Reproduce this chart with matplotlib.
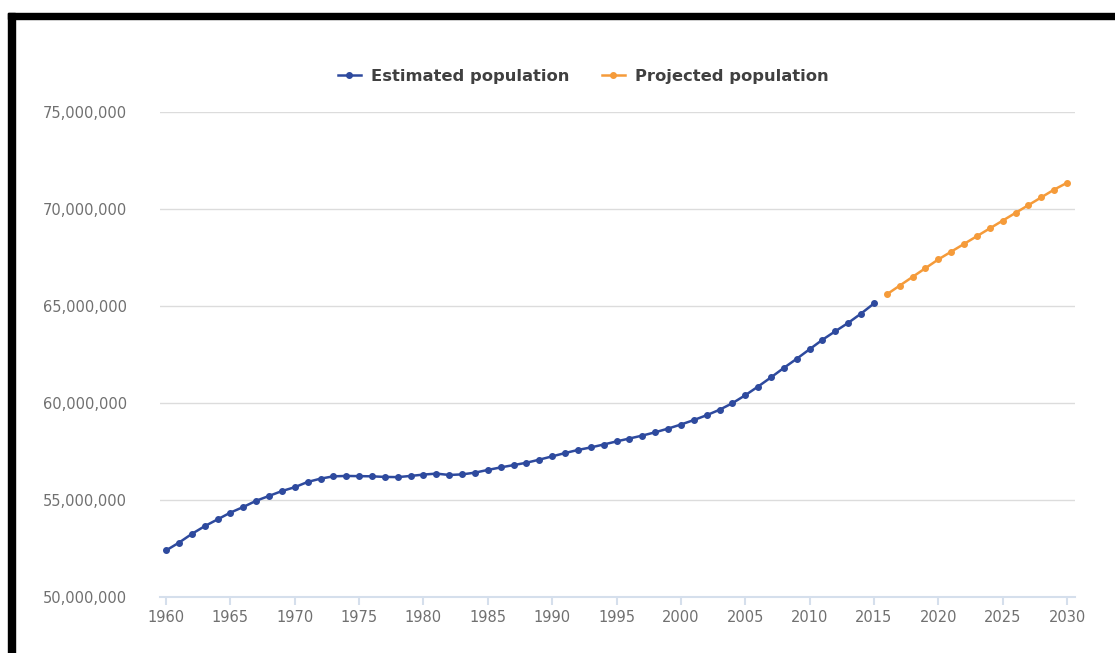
import matplotlib
matplotlib.use("Agg")
import matplotlib.pyplot as plt
from matplotlib.ticker import FuncFormatter, MultipleLocator
from matplotlib.patches import Rectangle

# UK population, estimated and projected
est_years = list(range(1960, 2016))
est_pop = [
    52.40, 52.80, 53.25, 53.65, 54.00, 54.35, 54.64, 54.96, 55.21, 55.46,
    55.66, 55.93, 56.10, 56.22, 56.24, 56.23, 56.22, 56.19, 56.18, 56.24,
    56.31, 56.36, 56.29, 56.32, 56.41, 56.55, 56.68, 56.80, 56.92, 57.08,
    57.25, 57.42, 57.58, 57.71, 57.86, 58.02, 58.17, 58.32, 58.49, 58.68,
    58.89, 59.12, 59.37, 59.65, 59.99, 60.40, 60.85, 61.32, 61.81, 62.28,
    62.77, 63.26, 63.70, 64.13, 64.61, 65.13,
]
proj_years = list(range(2016, 2031))
proj_pop = [
    65.60, 66.05, 66.50, 66.95, 67.40, 67.80, 68.20, 68.60, 69.00, 69.40,
    69.80, 70.20, 70.60, 71.00, 71.35,
]
series_labels = ["Estimated population", "Projected population"]

blue = "#2E4A9E"
orange = "#F59B3A"
tick_gray = "#707070"
axis_blue = "#D5DFEC"

fig = plt.figure(figsize=(11.15, 6.53), dpi=100)
ax = fig.add_axes([160 / 1115, 1 - 597 / 653, (1075 - 160) / 1115, (597 - 112) / 653])

ax.plot(est_years, [v * 1e6 for v in est_pop], color=blue, lw=1.8,
        marker="o", ms=4.0, label=series_labels[0], zorder=3)
ax.plot(proj_years, [v * 1e6 for v in proj_pop], color=orange, lw=1.8,
        marker="o", ms=4.0, label=series_labels[1], zorder=3)

ax.set_xlim(1959.53, 2030.62)
ax.set_ylim(50e6, 75e6)
ax.xaxis.set_major_locator(MultipleLocator(5))
ax.yaxis.set_major_locator(MultipleLocator(5e6))
ax.yaxis.set_major_formatter(FuncFormatter(lambda v, p: f"{int(v):,}"))

ax.grid(axis="y", color="#DCDCDC", lw=1.0)
ax.set_axisbelow(True)
for s in ["top", "right", "left"]:
    ax.spines[s].set_visible(False)
ax.spines["bottom"].set_color(axis_blue)
ax.spines["bottom"].set_linewidth(1.5)

ax.tick_params(axis="y", length=0, pad=24, labelsize=10.5, labelcolor=tick_gray)
ax.tick_params(axis="x", length=6, width=1.5, color=axis_blue, pad=3,
               labelsize=10.5, labelcolor=tick_gray)

leg = fig.legend(loc="center", bbox_to_anchor=(583 / 1115, 1 - 76 / 653), ncol=2,
                 frameon=False, handlelength=1.4, handletextpad=0.6,
                 columnspacing=2.0, prop={"weight": "bold", "size": 11.8})
for t in leg.get_texts():
    t.set_color("#404040")

# black frame on the top and left edges
fig.patches.append(Rectangle((8 / 1115, 0), 7 / 1115, 1 - 13 / 653,
                             transform=fig.transFigure, color="black", zorder=10))
fig.patches.append(Rectangle((8 / 1115, 1 - 19 / 653), 1 - 8 / 1115, 6 / 653,
                             transform=fig.transFigure, color="black", zorder=10))

fig.savefig("out.png", dpi=100, facecolor="white")
